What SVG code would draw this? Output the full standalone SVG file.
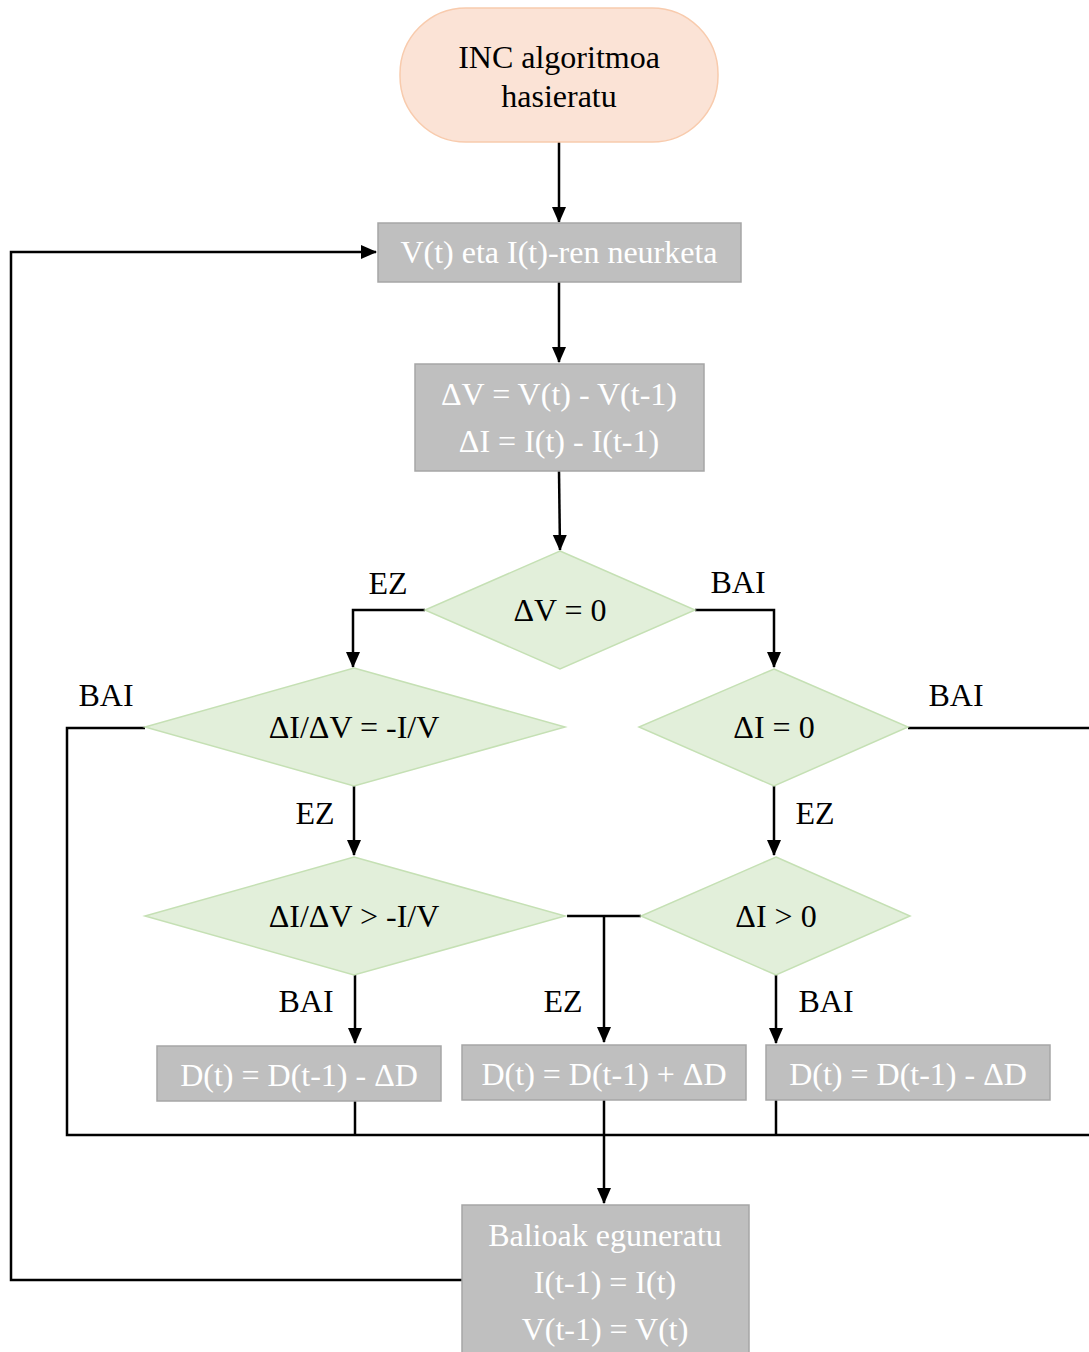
<svg xmlns="http://www.w3.org/2000/svg" width="1089" height="1352" viewBox="0 0 1089 1352">
<defs>
<marker id="arr" markerUnits="userSpaceOnUse" markerWidth="16" markerHeight="16" viewBox="0 0 16 16" refX="15" refY="8" orient="auto">
<path d="M0,1 L16,8 L0,15 Z" fill="#000"/>
</marker>
</defs>
<style>
text{font-family:"Liberation Serif","Times New Roman",serif;font-size:32px;text-anchor:middle}
.box{fill:#bfbfbf;stroke:#a6a6a6;stroke-width:1.5}
.boxt{fill:#ffffff}
.dia{fill:#e2efda;stroke:#c5e0b4;stroke-width:1.5}
.dt{fill:#000}
.lbl{fill:#000}
.ln{fill:none;stroke:#000;stroke-width:2.5}
.la{fill:none;stroke:#000;stroke-width:2.5;marker-end:url(#arr)}
</style>
<g id="connectors">
<path class="la" d="M559,142 V222"/>
<path class="la" d="M559,282 V362"/>
<path class="la" d="M559,471 L560,550"/>
<path class="la" d="M425,610 H353 V667"/>
<path class="la" d="M695,610 H774 V667"/>
<path class="ln" d="M145,728 H67 V1135 H1095"/>
<path class="ln" d="M908,728 H1095"/>
<path class="la" d="M354,786 V855"/>
<path class="la" d="M774,786 V855"/>
<path class="ln" d="M567,916 H641"/>
<path class="la" d="M604,916 V1042"/>
<path class="la" d="M355,975 V1043"/>
<path class="la" d="M776,975 V1043"/>
<path class="ln" d="M355,1101 V1135"/>
<path class="ln" d="M604,1100 V1135"/>
<path class="ln" d="M776,1100 V1135"/>
<path class="la" d="M604,1135 V1203"/>
<path class="la" d="M462,1280 H11 V252 H376"/>
<text class="lbl" x="388" y="594">EZ</text>
<text class="lbl" x="738" y="593">BAI</text>
<text class="lbl" x="106" y="706">BAI</text>
<text class="lbl" x="956" y="706">BAI</text>
<text class="lbl" x="315" y="824">EZ</text>
<text class="lbl" x="815" y="824">EZ</text>
<text class="lbl" x="306" y="1012">BAI</text>
<text class="lbl" x="563" y="1012">EZ</text>
<text class="lbl" x="826" y="1012">BAI</text>
</g>
<g id="start">
<rect x="400" y="8" width="318" height="134" rx="66" ry="66" fill="#fbe3d6" stroke="#f8cbad" stroke-width="1.5"/>
<text x="559" y="68">INC algoritmoa</text>
<text x="559" y="107">hasieratu</text>
</g>
<g id="measure">
<rect class="box" x="378" y="223" width="363" height="59"/>
<text class="boxt" x="559" y="263">V(t) eta I(t)-ren neurketa</text>
</g>
<g id="delta">
<rect class="box" x="415" y="364" width="289" height="107"/>
<text class="boxt" x="559" y="405">ΔV = V(t) - V(t-1)</text>
<text class="boxt" x="559" y="452">ΔI = I(t) - I(t-1)</text>
</g>
<g id="d1">
<polygon class="dia" points="560,551 695,610 560,669 425,610"/>
<text class="dt" x="560" y="621">ΔV = 0</text>
</g>
<g id="d2">
<polygon class="dia" points="354,668 565,727 354,786 145,727"/>
<text class="dt" x="354" y="738">ΔI/ΔV = -I/V</text>
</g>
<g id="d3">
<polygon class="dia" points="774,669 908,727 774,786 639,727"/>
<text class="dt" x="774" y="738">ΔI = 0</text>
</g>
<g id="d4">
<polygon class="dia" points="354,857 565,916 354,975 145,916"/>
<text class="dt" x="354" y="927">ΔI/ΔV &gt; -I/V</text>
</g>
<g id="d5">
<polygon class="dia" points="776,857 910,916 776,975 641,916"/>
<text class="dt" x="776" y="927">ΔI &gt; 0</text>
</g>
<g id="b1">
<rect class="box" x="157" y="1046" width="284" height="55"/>
<text class="boxt" x="299" y="1086">D(t) = D(t-1) - ΔD</text>
</g>
<g id="b2">
<rect class="box" x="462" y="1045" width="284" height="55"/>
<text class="boxt" x="604" y="1085">D(t) = D(t-1) + ΔD</text>
</g>
<g id="b3">
<rect class="box" x="766" y="1045" width="284" height="55"/>
<text class="boxt" x="908" y="1085">D(t) = D(t-1) - ΔD</text>
</g>
<g id="update">
<rect class="box" x="462" y="1205" width="287" height="160"/>
<text class="boxt" x="605" y="1246">Balioak eguneratu</text>
<text class="boxt" x="605" y="1293">I(t-1) = I(t)</text>
<text class="boxt" x="605" y="1340">V(t-1) = V(t)</text>
</g>
</svg>
